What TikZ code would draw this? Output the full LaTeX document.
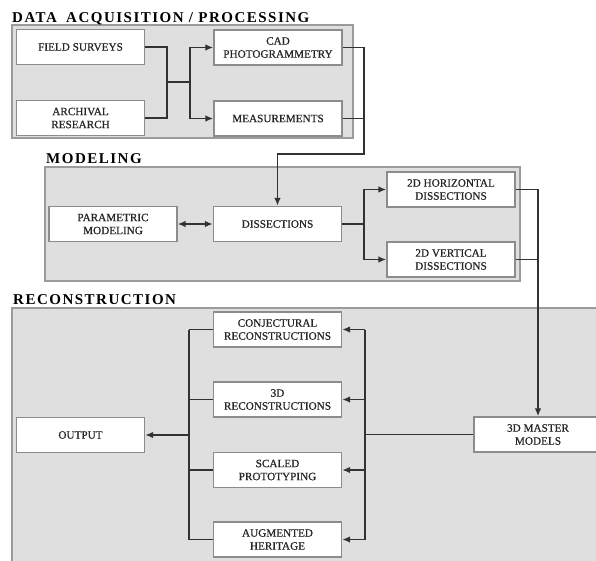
\documentclass[tikz,border=0pt]{standalone}
\usepackage{fontspec}
\setmainfont{Liberation Serif}
\newfontfamily\titlefont[LetterSpace=10]{Liberation Serif}
\newfontfamily\boxfont[FakeBold=0.7]{Liberation Serif}
\usetikzlibrary{arrows.meta}
\definecolor{panelfill}{RGB}{223,223,223}
\definecolor{panelline}{RGB}{155,155,155}
\definecolor{boxline}{RGB}{140,140,140}
\definecolor{wire}{RGB}{50,50,50}
\tikzset{
  panel/.style={draw=panelline, fill=panelfill, line width=1.4pt},
  stagetitle/.style={anchor=base west, inner sep=0pt, font=\titlefont\bfseries\fontsize{15}{15}\selectfont, text=black},
  blockbox/.style={draw=boxline, fill=white, line width=1.3pt, minimum width=128pt, minimum height=35pt,
    inner sep=1pt, align=center, font=\boxfont\fontsize{11.2}{13}\selectfont, text=black!85},
  wireline/.style={draw=wire, line width=1.8pt},
  flow/.style={wireline, -{Latex[length=8pt,width=6.5pt]}},
  twoway/.style={wireline, {Latex[length=8pt,width=6.5pt]}-{Latex[length=8pt,width=6.5pt]}},
}
\begin{document}
\begin{tikzpicture}[x=1pt, y=-1pt]
\useasboundingbox (0,0) rectangle (596,560);
\clip (0,0) rectangle (596,560);
\fill[white] (0,0) rectangle (596,560);

% stage panels
\draw[panel] (12,25) rectangle (353,138);
\draw[panel] (45,167) rectangle (520,281);
\draw[panel] (12,308) rectangle (610,575);

% stage titles
\node[stagetitle] (t1) at (12,22) {DATA\hspace{4pt} ACQUISITION / PROCESSING};
\node[stagetitle] (t2) at (46,163) {MODELING};
\node[stagetitle] (t3) at (13,304) {RECONSTRUCTION};

% blocks
\node[blockbox] (field) at (80.5,47) {FIELD SURVEYS};
\node[blockbox] (archival) at (80.5,118) {ARCHIVAL\\RESEARCH};
\node[blockbox] (cad) at (278,47.5) {CAD\\PHOTOGRAMMETRY};
\node[blockbox] (meas) at (278,118.5) {MEASUREMENTS};

\node[blockbox] (param) at (113,224) {PARAMETRIC\\MODELING};
\node[blockbox] (dissect) at (277.5,224) {DISSECTIONS};
\node[blockbox] (hor) at (451,189.5) {2D HORIZONTAL\\DISSECTIONS};
\node[blockbox] (ver) at (451,259.5) {2D VERTICAL\\DISSECTIONS};

\node[blockbox] (conj) at (277.5,329.5) {CONJECTURAL\\RECONSTRUCTIONS};
\node[blockbox] (rec) at (277.5,399.5) {3D\\RECONSTRUCTIONS};
\node[blockbox] (scaled) at (277.5,470) {SCALED\\PROTOTYPING};
\node[blockbox] (aug) at (277.5,539.5) {AUGMENTED\\HERITAGE};
\node[blockbox] (output) at (80.5,435) {OUTPUT};
\node[blockbox] (master) at (538,434.5) {3D MASTER\\MODELS};

% junction points
\coordinate (j1) at (167,82);
\coordinate (j2) at (190,82);
\coordinate (c1) at (364,154);
\coordinate (d1) at (364,224);
\coordinate (m1) at (365,434.5);
\coordinate (o1) at (189,435);

% acquisition -> processing
\draw[wireline] (field.east) -| (j1) (archival.east) -| (j1) (j1) -- (j2);
\draw[flow] (j2) |- (cad.west);
\draw[flow] (j2) |- (meas.west);

% processing -> dissections
\draw[flow] (cad.east) -| (c1) -| (dissect.north);
\draw[wireline] (meas.east) -- (meas.east -| c1);

% modeling
\draw[twoway] (param.east) -- (dissect.west);
\draw[wireline] (dissect.east) -- (d1);
\draw[flow] (d1) |- (hor.west);
\draw[flow] (d1) |- (ver.west);

% dissections -> master models
\draw[flow] (hor.east) -| (master.north);
\draw[wireline] (ver.east) -- (ver.east -| master.north);

% master models -> reconstructions
\draw[wireline] (master.west) -- (m1);
\draw[wireline] (m1 |- conj.east) -- (m1 |- aug.east);
\foreach \b in {conj,rec,scaled,aug}
  \draw[flow] (m1 |- \b.east) -- (\b.east);

% reconstructions -> output
\foreach \b in {conj,rec,scaled,aug}
  \draw[wireline] (\b.west) -- (o1 |- \b.west);
\draw[wireline] (o1 |- conj.west) -- (o1 |- aug.west);
\draw[flow] (o1) -- (output.east);
\end{tikzpicture}
\end{document}
